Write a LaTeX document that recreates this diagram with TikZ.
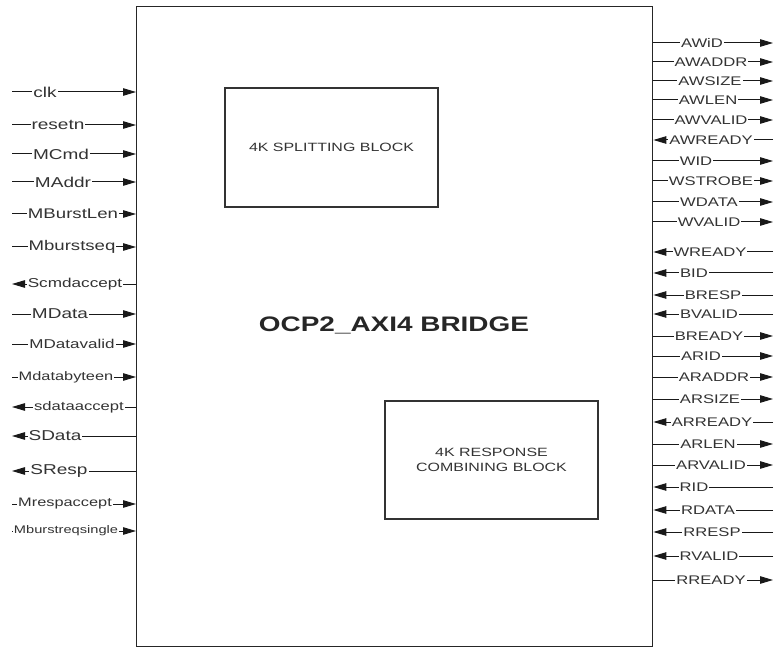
\documentclass[tikz,border=0pt]{standalone}
\usepackage{fontspec}
\setmainfont[FakeStretch=1.33]{Liberation Sans}
\usetikzlibrary{arrows.meta}
\begin{document}
\begin{tikzpicture}[x=1pt,y=-1pt,
  sig/.style={line width=1pt, draw=black!90},
  tip/.style={-{Triangle[length=13pt,width=7.5pt]}},
  lab/.style={fill=white, inner xsep=1pt, inner ysep=0.5pt, text=black!80},
  box/.style={draw=black!85, line width=1.4pt, inner sep=0pt},
  blk/.style={draw=black!80, line width=1.1pt, inner sep=0pt, text=black!80, align=center,
    minimum width=213pt, font=\fontsize{12}{15}\selectfont}]
\useasboundingbox (0,0) rectangle (774,647);
\node[box, minimum width=516pt, minimum height=640pt, anchor=north west] (bridge) at (136,6) {};
\node[blk, minimum height=119pt] (split) at (331.5,147.5) {4K SPLITTING BLOCK};
\node[blk, minimum height=118pt] (resp) at (491.5,460) {4K RESPONSE\\COMBINING BLOCK};
\node[text=black!85, font=\fontsize{21}{24}\selectfont\bfseries] (title) at (394,325) {OCP2\_AXI4 BRIDGE};
% left inputs
\foreach \y/\t/\xc/\s in {92/clk/45/14.3, 125/resetn/58/14.3, 154/MCmd/61/14.3, 182/MAddr/63/14.3,
  214/MBurstLen/73/14, 247/Mburstseq/72/14, 314/MData/60/14.3, 344/MDatavalid/72/12.8,
  377/Mdatabyteen/66/12.3, 504/Mrespaccept/65/12.3, 531/Mburstreqsingle/66/11}{
  \coordinate (l-\t) at (12,\y);
  \draw[sig, tip] (l-\t) -- (bridge.west |- l-\t);
  \node[lab, font=\fontsize{\s}{\s}\selectfont] (n-\t) at (\xc,\y) {\t};
}
% left outputs
\foreach \y/\t/\xc/\s in {284/Scmdaccept/75/12.9, 407/sdataaccept/79/12.5,
  436/SData/55/14.3, 471/SResp/59/14.3}{
  \coordinate (l-\t) at (12,\y);
  \draw[sig, tip] (bridge.west |- l-\t) -- (l-\t);
  \node[lab, font=\fontsize{\s}{\s}\selectfont] (n-\t) at (\xc,\y) {\t};
}
% right outputs
\foreach \y/\t/\xc in {43/AWiD/702, 62/AWADDR/711, 81/AWSIZE/710, 100/AWLEN/708,
  120/AWVALID/711, 161/WID/696, 181/WSTROBE/711, 202/WDATA/709, 222/WVALID/709,
  336/BREADY/709, 356/ARID/701, 377/ARADDR/714, 399/ARSIZE/710, 444/ARLEN/708,
  465/ARVALID/711, 580/RREADY/711}{
  \coordinate (r-\t) at (773,\y);
  \draw[sig, tip] (bridge.east |- r-\t) -- (r-\t);
  \node[lab, font=\fontsize{12.5}{13}\selectfont] (n-\t) at (\xc,\y) {\t};
}
% right inputs
\foreach \y/\t/\xc in {140/AWREADY/711, 252/WREADY/710, 273/BID/694, 295/BRESP/713,
  314/BVALID/709, 422/ARREADY/712, 487/RID/694, 510/RDATA/708, 532/RRESP/712,
  556/RVALID/709}{
  \coordinate (r-\t) at (773,\y);
  \draw[sig, tip] (r-\t) -- (bridge.east |- r-\t);
  \node[lab, font=\fontsize{12.5}{13}\selectfont] (n-\t) at (\xc,\y) {\t};
}
\end{tikzpicture}
\end{document}
